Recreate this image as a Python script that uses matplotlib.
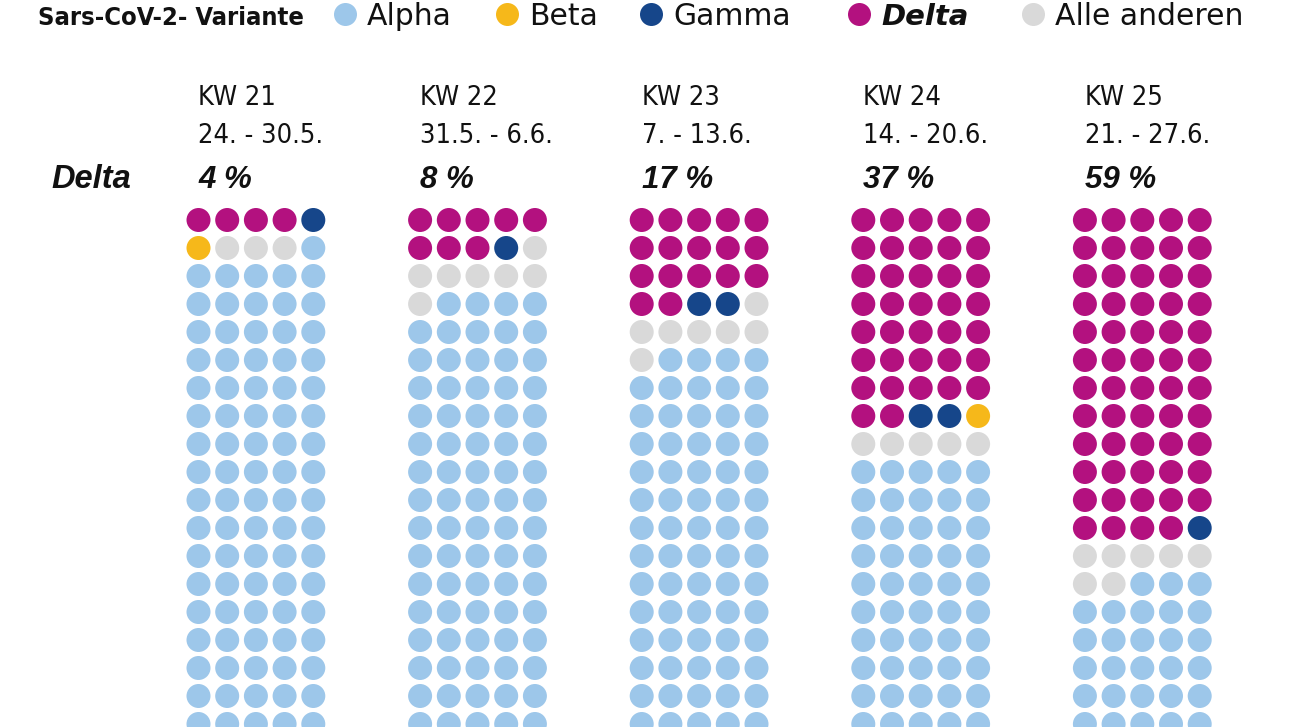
import matplotlib
matplotlib.use("Agg")
import matplotlib.pyplot as plt
from matplotlib import font_manager

# Daten: Anzahl Punkte (von 100) je Variante und Kalenderwoche
wochen = ["KW 21", "KW 22", "KW 23", "KW 24", "KW 25"]
zeitraum = ["24. - 30.5.", "31.5. - 6.6.", "7. - 13.6.", "14. - 20.6.", "21. - 27.6."]
delta_pct = [4, 8, 17, 37, 59]
delta = [4, 8, 17, 37, 59]
gamma = [1, 1, 2, 2, 1]
beta = [1, 0, 0, 1, 0]
andere = [3, 7, 7, 5, 7]
alpha = [91, 84, 74, 55, 33]

varianten = ["Alpha", "Beta", "Gamma", "Delta", "Alle anderen"]
farben = {"Alpha": "#9dc7ea", "Beta": "#f6b81a", "Gamma": "#16468a",
          "Delta": "#b3117f", "Alle anderen": "#d9d9d9"}

# schmale Schrift suchen, falls vorhanden
fonts = font_manager.fontManager.ttflist
namen = {f.name for f in fonts}
if "Liberation Sans Narrow" in namen:
    schmal = {"family": "Liberation Sans Narrow"}
elif any(f.name == "DejaVu Sans" and f.stretch == "condensed" for f in fonts):
    schmal = {"family": "DejaVu Sans", "stretch": "condensed"}
else:
    schmal = {"family": "Liberation Sans"}

W, H = 1292, 727
fig = plt.figure(figsize=(W / 100, H / 100), dpi=100)
ax = fig.add_axes([0, 0, 1, 1])
ax.set_xlim(0, W)
ax.set_ylim(H, 0)
ax.axis("off")

# Waffel-Layout (Pixel)
x0, y0 = 198.5, 220
dx, dy = 28.7, 28
gruppe = 221.6
ncol, nrow = 5, 20
s_dot = (24 * 0.72) ** 2

for g in range(len(wochen)):
    reihenfolge = (["Delta"] * delta[g] + ["Gamma"] * gamma[g] + ["Beta"] * beta[g]
                   + ["Alle anderen"] * andere[g] + ["Alpha"] * alpha[g])
    xs, ys, cs = [], [], []
    for i, v in enumerate(reihenfolge[:ncol * nrow]):
        xs.append(x0 + g * gruppe + (i % ncol) * dx)
        ys.append(y0 + (i // ncol) * dy)
        cs.append(farben[v])
    ax.scatter(xs, ys, s=s_dot, c=cs, linewidths=0, zorder=2)

    xt = x0 + g * gruppe
    ax.text(xt, 105, wochen[g], fontsize=19.5, color="#111111", va="baseline", **schmal)
    ax.text(xt, 143, zeitraum[g], fontsize=19.5, color="#111111", va="baseline", **schmal)
    ax.text(xt, 188, f"{delta_pct[g]} %", fontsize=22.5, fontweight="bold",
            fontstyle="italic", family="Liberation Sans", color="#111111", va="baseline")

ax.text(51, 188, "Delta", fontsize=23.5, fontweight="bold", fontstyle="italic",
        family="Liberation Sans", color="#111111", va="baseline")

# Legende oben
ax.text(38, 25, "Sars-CoV-2- Variante", fontsize=18.3, fontweight="bold",
        color="#111111", va="baseline", **schmal)
leg_x = [345, 507, 651, 859, 1033]
for v, lx in zip(varianten, leg_x):
    ax.scatter([lx], [14], s=(23 * 0.72) ** 2, c=farben[v], linewidths=0)
    if v == "Delta":
        ax.text(lx + 22, 25, v, fontsize=21, fontweight="bold", fontstyle="italic",
                color="#111111", va="baseline")
    else:
        ax.text(lx + 22, 25, v, fontsize=21.5, color="#111111", va="baseline")

fig.savefig("out.png", dpi=100, facecolor="white")
